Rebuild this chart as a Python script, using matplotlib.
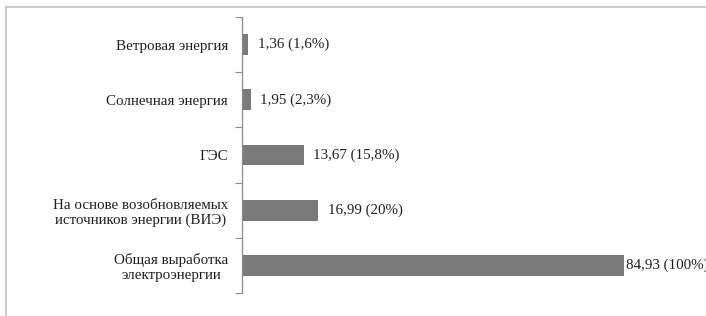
#!/usr/bin/env python3

import matplotlib
matplotlib.use("Agg")
import matplotlib.pyplot as plt
from matplotlib.lines import Line2D

# Data (top to bottom as drawn)
categories = [
    "Ветровая энергия",
    "Солнечная энергия",
    "ГЭС",
    "На основе возобновляемых\nисточников энергии (ВИЭ)",
    "Общая выработка\nэлектроэнергии",
]
values = [1.36, 1.95, 13.67, 16.99, 84.93]
value_labels = ["1,36 (1,6%)", "1,95 (2,3%)", "13,67 (15,8%)", "16,99 (20%)", "84,93 (100%)"]

plt.rcParams['font.family'] = ['Liberation Serif', 'DejaVu Serif']

W, H = 706, 316
fig = plt.figure(figsize=(W / 100., H / 100.), dpi=100)
ax = fig.add_axes([242. / W, 1 - 293. / H, 405. / W, (293. - 17.) / H])

pos = list(range(len(categories)))
bars = ax.barh(pos, values, height=0.38, color='#7a7a7a')

ax.set_xlim(0, 90)
ax.set_ylim(len(categories) - 0.5, -0.5)

# value labels to the right of each bar
for i, (b, lbl) in enumerate(zip(bars, value_labels)):
    off = 1 if i == len(bars) - 1 else 7
    ax.annotate(lbl, (b.get_width(), b.get_y() + b.get_height() / 2.),
                xytext=(off, 0), textcoords='offset points',
                va='center', ha='left', fontsize=10.8, color='#1e1e1e',
                annotation_clip=False)

# ticks between categories, labels at category centres
ax.set_yticks([p - 0.5 for p in pos] + [pos[-1] + 0.5])
ax.set_yticklabels([])
ax.tick_params(axis='y', which='major', length=5, color='#8c8c8c', direction='out')
ax.set_yticks(pos, minor=True)
ax.set_yticklabels(categories, minor=True, fontsize=10.8, color='#1e1e1e')
ax.tick_params(axis='y', which='minor', length=0, pad=10)
for t in ax.get_yticklabels(minor=True):
    t.set_multialignment('center')

ax.set_xticks([])
for s in ['top', 'right', 'bottom']:
    ax.spines[s].set_visible(False)
ax.spines['left'].set_color('#8c8c8c')
ax.spines['left'].set_linewidth(0.9)

# outer frame (cut off at right and bottom)
fig.add_artist(Line2D([6. / W, 6. / W], [-0.1, 1 - 7. / H], transform=fig.transFigure,
                      color='#c4c4c4', linewidth=1.2))
fig.add_artist(Line2D([6. / W, 1.1], [1 - 7. / H, 1 - 7. / H], transform=fig.transFigure,
                      color='#c4c4c4', linewidth=1.2))

fig.savefig("out.png", dpi=100)
